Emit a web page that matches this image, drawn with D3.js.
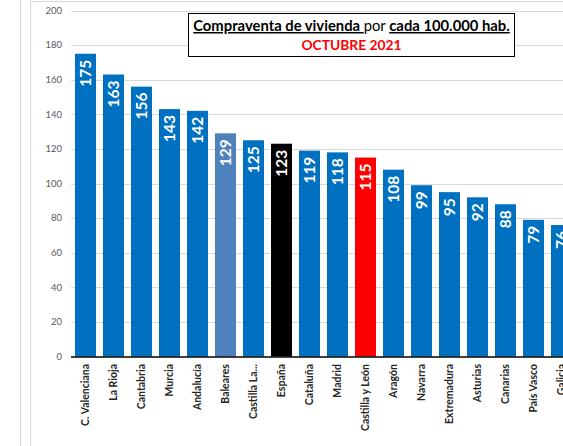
<!DOCTYPE html>
<meta charset="utf-8">
<style>

body {
  margin: 0;
  background: #fff;
  overflow: hidden;
}

svg {
  font-family: Lato, "Liberation Sans", sans-serif;
}

.grid line {
  stroke: #d9d9d9;
  stroke-width: 1;
}

.y-tick {
  fill: #595959;
  font-size: 9.5px;
}

.x-label {
  fill: #262626;
  font-size: 10.5px;
  font-weight: bold;
}

.value {
  fill: #fff;
  font-size: 15.5px;
  font-weight: bold;
}

</style>
<body>
<script src="https://cdn.jsdelivr.net/npm/d3@7"></script>
<script>

var regions = ["C. Valenciana", "La Rioja", "Cantabria", "Murcia", "Andalucía",
               "Baleares", "Castilla La...", "España", "Cataluña", "Madrid",
               "Castilla y León", "Aragón", "Navarra", "Extremadura", "Asturias",
               "Canarias", "País Vasco", "Galicia"];

var sales = [175, 163, 156, 143, 142, 129, 125, 123, 119, 118, 115, 108, 99, 95, 92, 88, 79, 76];

var yTicks = [0, 20, 40, 60, 80, 100, 120, 140, 160, 180, 200];

// highlighted bars
var barColors = {"Baleares": "#4f81bd", "España": "#000000", "Castilla y León": "#ff0000"};

var width = 563,
    height = 446,
    left = 71,
    step = 28;

var svg = d3.select("body").append("svg")
    .attr("width", width)
    .attr("height", height);

// outer frame lines
svg.append("line").attr("x1", 20.5).attr("x2", 20.5).attr("y1", 0).attr("y2", height)
    .attr("stroke", "#d9d9d9");
svg.append("line").attr("x1", 30.5).attr("x2", 30.5).attr("y1", 0).attr("y2", height)
    .attr("stroke", "#d9d9d9");
svg.append("line").attr("x1", 30).attr("x2", width).attr("y1", 1.5).attr("y2", 1.5)
    .attr("stroke", "#d9d9d9");

var x = d3.scaleBand()
    .domain(regions)
    .range([left, left + step * (regions.length - 0.25 + 0.286)])
    .paddingInner(0.25)
    .paddingOuter(0.143);

var y = d3.scaleLinear()
    .domain([0, 200])
    .range([356.5, 10.5]);

// gridlines
svg.append("g")
    .attr("class", "grid")
  .selectAll("line")
    .data(yTicks.slice(1))
  .enter().append("line")
    .attr("x1", left)
    .attr("x2", width)
    .attr("y1", function(d) { return Math.round(y(d)) + 0.5; })
    .attr("y2", function(d) { return Math.round(y(d)) + 0.5; });

svg.append("g")
  .selectAll("text")
    .data(yTicks)
  .enter().append("text")
    .attr("class", "y-tick")
    .attr("x", 62)
    .attr("y", function(d) { return y(d); })
    .attr("dy", "0.35em")
    .attr("text-anchor", "end")
    .text(function(d) { return d; });

// bars
svg.append("g")
  .selectAll("rect")
    .data(regions)
  .enter().append("rect")
    .attr("x", function(d) { return x(d); })
    .attr("y", function(d, i) { return y(sales[i]); })
    .attr("width", x.bandwidth())
    .attr("height", function(d, i) { return y(0) - y(sales[i]); })
    .attr("fill", function(d) { return barColors[d] || "#0070c0"; });

// values inside bars
svg.append("g")
  .selectAll("text")
    .data(regions)
  .enter().append("text")
    .attr("class", "value")
    .attr("text-anchor", "end")
    .attr("dy", "0.36em")
    .attr("transform", function(d, i) {
      return "translate(" + (x(d) + x.bandwidth() / 2) + "," + (y(sales[i]) + 6) + ") rotate(-90)";
    })
    .text(function(d, i) { return sales[i]; });

// baseline
svg.append("line")
    .attr("x1", left).attr("x2", width)
    .attr("y1", y(0) + 0.5).attr("y2", y(0) + 0.5)
    .attr("stroke", "#000")
    .attr("stroke-width", 1.5);

// category labels
svg.append("g")
  .selectAll("text")
    .data(regions)
  .enter().append("text")
    .attr("class", "x-label")
    .attr("text-anchor", "end")
    .attr("dy", "0.35em")
    .attr("transform", function(d) {
      return "translate(" + (x(d) + x.bandwidth() / 2) + ",364) rotate(-90)";
    })
    .text(function(d) { return d; });

// title box
svg.append("rect")
    .attr("x", 188.5).attr("y", 13.5)
    .attr("width", 326).attr("height", 43)
    .attr("fill", "#fff")
    .attr("stroke", "#000");

var title = svg.append("text")
    .attr("x", 351.5)
    .attr("y", 31)
    .attr("text-anchor", "middle")
    .style("font-size", "14.8px")
    .style("fill", "#000");

title.append("tspan").attr("font-weight", "bold").attr("text-decoration", "underline")
    .text("Compraventa de vivienda ");
title.append("tspan").text("por ");
title.append("tspan").attr("font-weight", "bold").attr("text-decoration", "underline")
    .text("cada 100.000 hab.");

svg.append("text")
    .attr("x", 351.5)
    .attr("y", 50)
    .attr("text-anchor", "middle")
    .style("font-size", "13.8px")
    .style("font-weight", "bold")
    .style("fill", "#ff0000")
    .text("OCTUBRE 2021");

</script>
</body>
